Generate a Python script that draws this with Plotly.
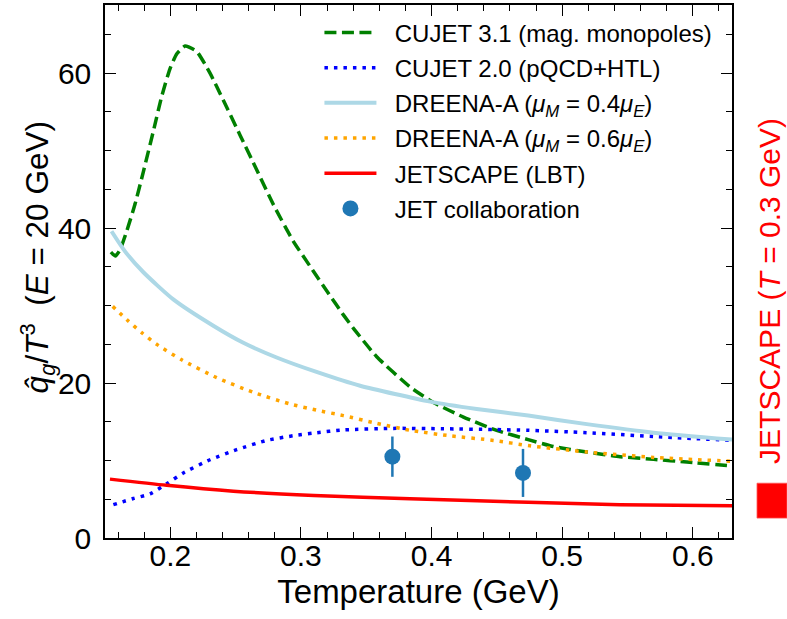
import plotly.graph_objects as go

# ---------------- data ----------------
T_cujet31 = [0.1545, 0.158, 0.1615, 0.1666, 0.173, 0.1794, 0.187, 0.1934, 0.1998, 0.205, 0.2113,
             0.2202, 0.2304, 0.2406, 0.2534, 0.2662, 0.279, 0.2942, 0.3089, 0.3214, 0.3325, 0.3414,
             0.358, 0.3835, 0.4014, 0.4244, 0.4498, 0.474, 0.4933, 0.5188, 0.5443, 0.57, 0.5954, 0.63]
q_cujet31 = [36.9, 36.4, 37.2, 39.6, 43.1, 47.3, 52.5, 57.0, 60.6, 62.5, 63.5,
             62.8, 60.0, 56.5, 52.0, 47.5, 43.0, 38.3, 34.6, 31.5, 28.8, 26.8,
             23.4, 19.5, 17.5, 15.6, 13.9, 12.7, 11.8, 11.1, 10.5, 10.15, 9.8, 9.3]

T_cujet20 = [0.1564, 0.1717, 0.1845, 0.1972, 0.21, 0.2304, 0.2508, 0.2738, 0.2942, 0.31, 0.3325,
             0.3707, 0.409, 0.4473, 0.474, 0.5188, 0.57, 0.63]
q_cujet20 = [4.3, 5.1, 5.7, 7.0, 8.4, 10.1, 11.4, 12.6, 13.2, 13.55, 13.95,
             14.15, 14.1, 14.0, 13.9, 13.6, 13.1, 12.6]

T_dreena04 = [0.155, 0.1653, 0.1794, 0.2023, 0.2329, 0.2559, 0.2814, 0.3125, 0.3453, 0.3989,
              0.4346, 0.474, 0.5188, 0.57, 0.63]
q_dreena04 = [39.6, 37.0, 34.3, 30.8, 27.4, 25.2, 23.3, 21.4, 19.65, 17.6,
              16.65, 15.8, 14.7, 13.6, 12.7]

T_dreena06 = [0.1559, 0.1666, 0.1781, 0.1896, 0.2087, 0.2355, 0.2636, 0.2916, 0.312, 0.3325,
              0.358, 0.3835, 0.414, 0.4473, 0.4754, 0.5188, 0.57, 0.63]
q_dreena06 = [29.9, 28.2, 26.5, 25.0, 23.0, 20.7, 18.8, 17.3, 16.5, 15.8,
              14.8, 13.9, 13.2, 12.6, 11.9, 11.1, 10.4, 9.9]

T_jetscape = [0.1538, 0.1972, 0.2483, 0.31, 0.3835, 0.474, 0.5443, 0.63]
q_jetscape = [7.6, 6.8, 6.05, 5.5, 5.07, 4.6, 4.3, 4.15]

T_jet = [0.37, 0.47]
q_jet = [10.5, 8.4]
q_jet_err = [2.6, 3.1]

x_ticks = [0.2, 0.3, 0.4, 0.5, 0.6]
y_ticks = [0, 20, 40, 60]

FONT = "Liberation Sans, Arial, Helvetica, sans-serif"
PAD = "\u00a0\u00a0"

fig = go.Figure()

fig.add_trace(go.Scatter(
    x=T_cujet31, y=q_cujet31, mode="lines", name=PAD + "CUJET 3.1 (mag. monopoles)", legendgroup="a",
    line=dict(color="green", width=3.5, dash="12px,5.5px", shape="spline", smoothing=0.5)))
fig.add_trace(go.Scatter(
    x=T_cujet20, y=q_cujet20, mode="lines", name=PAD + "CUJET 2.0 (pQCD+HTL)", legendgroup="b",
    line=dict(color="blue", width=3.5, dash="3.5px,6px", shape="spline", smoothing=0.6)))
fig.add_trace(go.Scatter(
    x=T_dreena04, y=q_dreena04, mode="lines", legendgroup="c",
    name=PAD + "DREENA-A (<i>μ</i><sub><i>M</i></sub> = 0.4<i>μ</i><sub><i>E</i></sub>)",
    line=dict(color="lightblue", width=4, shape="spline", smoothing=0.6)))
fig.add_trace(go.Scatter(
    x=T_dreena06, y=q_dreena06, mode="lines", legendgroup="d",
    name=PAD + "DREENA-A (<i>μ</i><sub><i>M</i></sub> = 0.6<i>μ</i><sub><i>E</i></sub>)",
    line=dict(color="orange", width=3.5, dash="3.5px,6px", shape="spline", smoothing=0.6)))
fig.add_trace(go.Scatter(
    x=T_jetscape, y=q_jetscape, mode="lines", name=PAD + "JETSCAPE (LBT)", legendgroup="e",
    line=dict(color="red", width=3.5, shape="spline", smoothing=0.6)))
fig.add_trace(go.Scatter(
    x=T_jet, y=q_jet, mode="markers", name=PAD + "JET collaboration", legendgroup="f",
    marker=dict(color="#1f77b4", size=16),
    error_y=dict(type="data", array=q_jet_err, color="#1f77b4", thickness=2.5, width=0)))

axis_common = dict(
    showline=True, linecolor="black", linewidth=1.5, mirror="allticks",
    ticks="inside", ticklen=11, tickwidth=1.3, tickcolor="black",
    showgrid=False, zeroline=False,
    tickfont=dict(family=FONT, size=30, color="black"),
)

fig.update_xaxes(
    range=[0.15, 0.63], tickvals=x_ticks, ticktext=[f"{v:.1f}" for v in x_ticks],
    minor=dict(dtick=0.02, tick0=0.0, ticks="inside", ticklen=6, tickwidth=1.2, tickcolor="black", showgrid=False),
    ticklabelstandoff=-10,
    title=dict(text="Temperature (GeV)", font=dict(family=FONT, size=33, color="black"), standoff=9),
    **axis_common)
fig.update_yaxes(
    range=[0, 68.8], tickvals=y_ticks, ticktext=[str(v) for v in y_ticks],
    minor=dict(dtick=5, tick0=0, ticks="inside", ticklen=6, tickwidth=1.2, tickcolor="black", showgrid=False),
    ticklabelstandoff=6,
    **axis_common)

# y-axis title
fig.add_annotation(
    xref="paper", yref="paper", x=-0.108, y=0.527, showarrow=False, textangle=-90,
    text="<i>q̂</i><sub><i>g</i></sub>/<i>T</i><sup>3</sup>\u00a0\u00a0(<i>E</i> = 20 GeV)",
    font=dict(family=FONT, size=31.5, color="black"), xanchor="center", yanchor="middle")

# right-hand JETSCAPE label and red square
fig.add_annotation(
    xref="paper", yref="paper", x=1.0606, y=0.4636, showarrow=False, textangle=-90,
    text="JETSCAPE (<i>T</i> = 0.3 GeV)",
    font=dict(family=FONT, size=30, color="red"), xanchor="center", yanchor="middle")
fig.add_shape(type="rect", xref="paper", yref="paper",
              x0=1.0399, x1=1.0877, y0=0.0374, y1=0.1028,
              fillcolor="red", line=dict(color="rgba(255,80,80,0.8)", width=1))

fig.update_layout(
    width=787, height=619,
    margin=dict(l=105, r=55, t=3, b=81),
    paper_bgcolor="white", plot_bgcolor="white",
    font=dict(family=FONT, color="black"),
    legend=dict(x=0.342, y=0.99, xanchor="left", yanchor="top",
                bgcolor="rgba(0,0,0,0)", borderwidth=0,
                font=dict(family=FONT, size=24, color="black"),
                itemwidth=52, tracegroupgap=1, traceorder="grouped"),
    showlegend=True,
)

fig.write_html("out.html", config={"displayModeBar": False},
               post_script="document.body.style.margin='0';")
